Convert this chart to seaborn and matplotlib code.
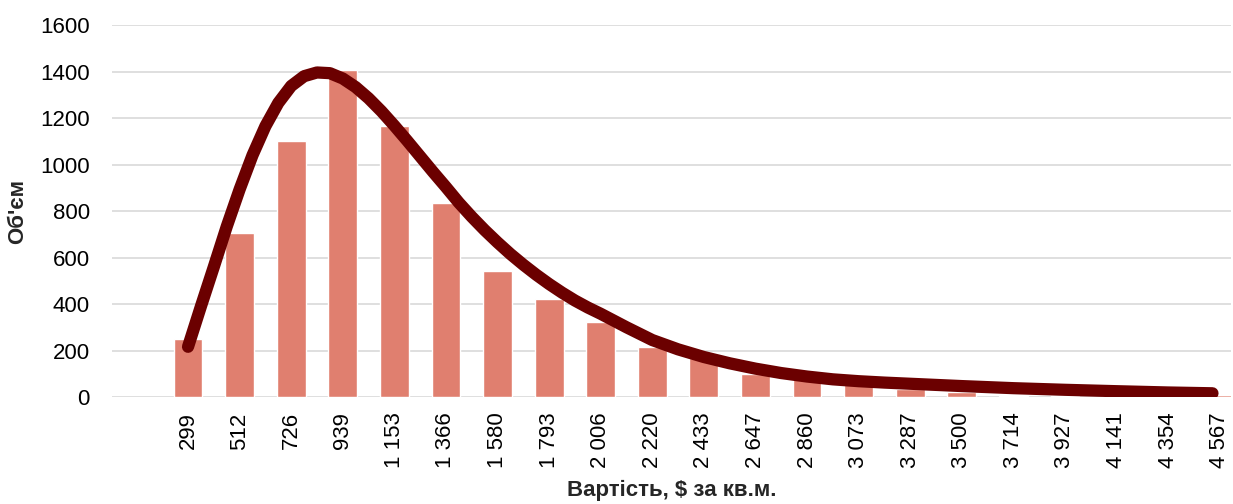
import numpy as np
import pandas as pd
import seaborn as sns
import matplotlib.pyplot as plt

sns.set_style("white")
plt.rcParams['font.family'] = ['Liberation Sans', 'DejaVu Sans']

# === Data ===
price_labels = ["299", "512", "726", "939", "1 153", "1 366", "1 580", "1 793",
                "2 006", "2 220", "2 433", "2 647", "2 860", "3 073", "3 287",
                "3 500", "3 714", "3 927", "4 141", "4 354", "4 567"]
volumes = [248, 705, 1102, 1406, 1166, 835, 542, 421, 323, 214, 166, 99,
           85, 55, 35, 20, 6, 4, 3, 2, 10]

# fitted curve, x in category positions (0 = first bar)
curve_x = [0.0, 0.25, 0.5, 0.75, 1.0, 1.25, 1.5, 1.75, 2.0, 2.25, 2.5,
           2.75, 3.0, 3.25, 3.5, 3.75, 4.0, 4.25, 4.5, 4.75, 5.0, 5.25,
           5.5, 5.75, 6.0, 6.25, 6.5, 6.75, 7.0, 7.25, 7.5, 7.75, 8.0,
           8.5, 9.0, 9.5, 10.0, 10.5, 11.0, 11.5, 12.0, 12.5, 13.0, 13.5,
           14.0, 14.5, 15.0, 16.0, 17.0, 18.0, 19.0, 19.86]
curve_y = [216, 390, 560, 733, 893, 1040, 1165, 1265, 1338, 1380, 1396,
           1393, 1370, 1333, 1285, 1229, 1167, 1102, 1035, 968, 903, 836,
           775, 718, 665, 615, 569, 526, 486, 449, 415, 385, 358,
           300, 245, 205, 172, 145, 122, 103, 88, 76, 68, 62,
           57, 52, 47, 38, 31, 25, 19.5, 16]

bar_color = "#E07F6F"
curve_color = "#6B0000"

pos = np.arange(len(price_labels))
df = pd.DataFrame({"pos": pos, "volume": volumes})

fig = plt.figure(figsize=(12.33, 5.04), dpi=100)
ax = fig.add_axes([0.091, 0.2123, 0.907, 0.738])

sns.barplot(data=df, x="pos", y="volume", native_scale=True, width=0.56,
            color=bar_color, saturation=1, ax=ax, zorder=2)
sns.lineplot(x=curve_x, y=curve_y, color=curve_color, linewidth=8.8,
             ax=ax, zorder=3, solid_capstyle="round", solid_joinstyle="round")

ax.set_xlim(-1.47, 20.21)
ax.set_ylim(0, 1600)
ax.set_yticks(range(0, 1601, 200))
ax.set_xticks(pos)
ax.set_xticklabels(price_labels, rotation=90, va="top", ha="center")
ax.grid(axis="y", color="#D9D9D9", linewidth=1.2, zorder=0)
ax.set_axisbelow(True)
for s in ax.spines.values():
    s.set_visible(False)
ax.tick_params(axis="y", length=0, pad=16, labelsize=16, colors="#000000")
ax.tick_params(axis="x", length=0, pad=11, labelsize=16, colors="#000000")

ax.set_ylabel("Об'єм", fontsize=16, fontweight="bold")
ax.set_xlabel("Вартість, $ за кв.м.", fontsize=16, fontweight="bold")
ax.yaxis.set_label_coords(-0.075, 0.5)
ax.xaxis.set_label_coords(0.5, -0.222)

plt.savefig("out.png", dpi=100)
plt.close()
